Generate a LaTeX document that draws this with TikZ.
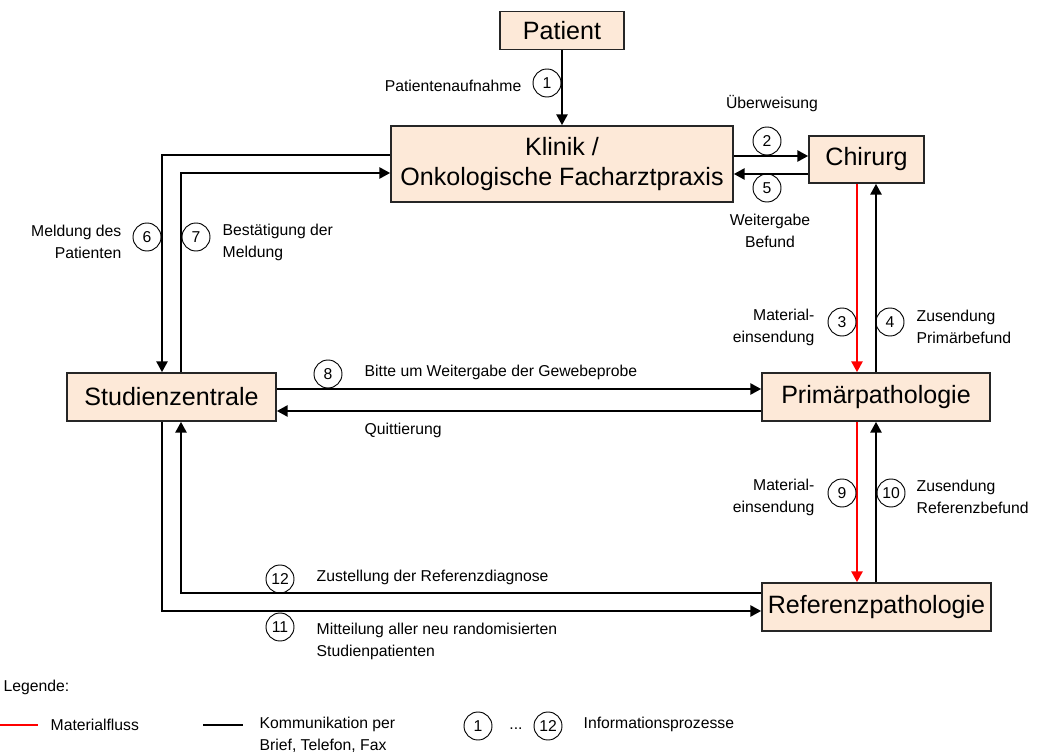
\documentclass[tikz,border=0pt]{standalone}
\usepackage{fontspec}
\setmainfont{Liberation Sans}
\usetikzlibrary{arrows.meta}
\definecolor{peach}{RGB}{253,233,216}

\begin{document}
\begin{tikzpicture}[x=0.75pt, y=-0.75pt, line width=1pt,
  box/.style = {draw=black!85, fill=peach, line width=1.4pt, inner sep=1pt, align=center, font=\fontsize{18.8}{22.5}\selectfont},
  num/.style = {draw, circle, minimum size=21pt, inner sep=0pt, line width=0.7pt, font=\fontsize{11.8}{14}\selectfont},
  lbl/.style = {inner sep=0pt, font=\fontsize{11.8}{16.5}\selectfont},
  arr/.style = {-{Triangle[length=8pt, width=8.5pt]}},
  mat/.style = {arr, red}]
  \useasboundingbox (0,0) rectangle (1053,755);

  % boxes
  \node[box, minimum width=93pt, minimum height=28.5pt] (patient) at (562,30.5) {Patient};
  \node[box, minimum width=256.5pt, minimum height=57pt] (klinik) at (562,164) {Klinik /\\Onkologische Facharztpraxis};
  \node[box, minimum width=86.25pt, minimum height=35.25pt] (chirurg) at (866.5,159.5) {Chirurg};
  \node[box, minimum width=156.75pt, minimum height=36pt] (studien) at (171.5,397) {Studienzentrale};
  \node[box, minimum width=171pt, minimum height=36pt] (primaer) at (876,397) {Primärpathologie};
  \node[box, minimum width=171.75pt, minimum height=36pt] (referenz) at (876.5,607) {Referenzpathologie};

  % lanes
  \coordinate (xa) at (162,0);
  \coordinate (xc) at (181,0);
  \coordinate (xr) at (857,0);
  \coordinate (xb) at (876,0);
  \coordinate (y2) at (0,156);
  \coordinate (y5) at (0,174);
  \coordinate (y6) at (0,155);
  \coordinate (y7) at (0,173);
  \coordinate (y8) at (0,389);
  \coordinate (yq) at (0,411);
  \coordinate (y12) at (0,593);
  \coordinate (y11) at (0,611);

  \draw[arr] (patient) -- (klinik);
  \draw[arr] (klinik.east |- y2) -- (chirurg.west |- y2);
  \draw[arr] (chirurg.west |- y5) -- (klinik.east |- y5);
  \draw[mat] (chirurg.south -| xr) -- (primaer.north -| xr);
  \draw[arr] (primaer.north -| xb) -- (chirurg.south -| xb);
  \draw[mat] (primaer.south -| xr) -- (referenz.north -| xr);
  \draw[arr] (referenz.north -| xb) -- (primaer.south -| xb);
  \draw[arr] (klinik.west |- y6) -| (studien.north -| xa);
  \draw[arr] (studien.north -| xc) |- (klinik.west |- y7);
  \draw[arr] (studien.east |- y8) -- (primaer.west |- y8);
  \draw[arr] (primaer.west |- yq) -- (studien.east |- yq);
  \draw[arr] (referenz.west |- y12) -| (studien.south -| xc);
  \draw[arr] (studien.south -| xa) |- (referenz.west |- y11);

  % numbers
  \node[num] (n1) at (547,83) {1};
  \node[num] (n2) at (767,141) {2};
  \node[num] (n3) at (842,322) {3};
  \node[num] (n4) at (890,322) {4};
  \node[num] (n5) at (767,188) {5};
  \node[num] (n6) at (147,237) {6};
  \node[num] (n7) at (196,237) {7};
  \node[num] (n8) at (328,374) {8};
  \node[num] (n9) at (842,493) {9};
  \node[num] (n10) at (891,493) {10};
  \node[num] (n11) at (280,627) {11};
  \node[num] (n12) at (280,579) {12};

  % labels
  \node[lbl, anchor=east] (t1) at (522,86) {Patientenaufnahme};
  \node[lbl] (t2) at (772,104) {Überweisung};
  \node[lbl, align=center] (t5) at (770,231) {Weitergabe\\Befund};
  \node[lbl, anchor=east, align=right] (t3) at (815,327) {Material-\\einsendung};
  \node[lbl, anchor=west, align=left] (t4) at (916,327) {Zusendung\\Primärbefund};
  \node[lbl, anchor=east, align=right] (t9) at (815,497) {Material-\\einsendung};
  \node[lbl, anchor=west, align=left] (t10) at (916,497) {Zusendung\\Referenzbefund};
  \node[lbl, anchor=east, align=right] (t6) at (122,242) {Meldung des\\Patienten};
  \node[lbl, anchor=west, align=left] (t7) at (222,242) {Bestätigung der\\Meldung};
  \node[lbl, anchor=west] (t8) at (364,372) {Bitte um Weitergabe der Gewebeprobe};
  \node[lbl, anchor=west] (tq) at (364,430) {Quittierung};
  \node[lbl, anchor=west] (t12) at (316,577) {Zustellung der Referenzdiagnose};
  \node[lbl, anchor=west, align=left] (t11) at (316,641) {Mitteilung aller neu randomisierten\\Studienpatienten};

  % legend
  \node[lbl, anchor=west] (leg) at (3,687) {Legende:};
  \draw[red] (0,725) -- (38,725);
  \node[lbl, anchor=west] (lm) at (50,725) {Materialfluss};
  \draw (203,725) -- (243,725);
  \node[lbl, anchor=west, align=left] (lk) at (259,735) {Kommunikation per\\Brief, Telefon, Fax};
  \node[num] (l1) at (478,726) {1};
  \node[lbl] (dots) at (516,729) {...};
  \node[num] (l12) at (548,726) {12};
  \node[lbl, anchor=west] (li) at (583,724) {Informationsprozesse};
\end{tikzpicture}
\end{document}
